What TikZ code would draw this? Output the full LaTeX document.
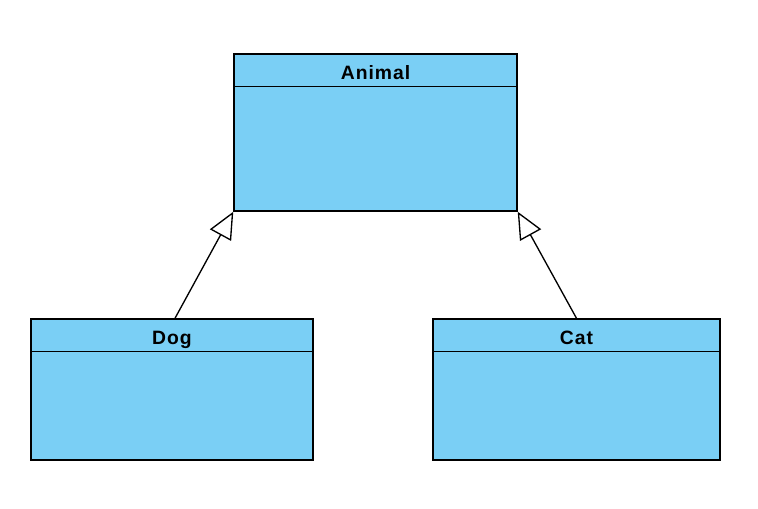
\documentclass[tikz,border=0pt]{standalone}
\usepackage{fontspec}
\setmainfont{Liberation Sans}
\usetikzlibrary{arrows.meta}
\definecolor{classblue}{RGB}{122,207,245}
\begin{document}
\begin{tikzpicture}[x=0.75pt, y=-0.75pt, line join=miter, >={Triangle[open, length=20pt, width=18pt]},
  classbox/.style={draw, fill=classblue, line width=1.1pt, inner sep=0pt},
  classname/.style={anchor=base, inner sep=0pt, yshift=-26.5*0.75pt,
    font=\fontsize{14.5}{16}\selectfont\bfseries\addfontfeature{LetterSpace=5}},
  headline/.style={line width=1.1pt},
  inherit/.style={->, line width=1pt}]
	\useasboundingbox (0,0) rectangle (758,508);
	% superclass
	\node[classbox, minimum width=283*0.75pt, minimum height=157*0.75pt] (animal) at (375.5,132.5) {};
	\node[classname] (animaltitle) at (animal.north) {Animal};
	\draw[headline] (animal.north west) ++(0,33) -- ++(283,0);
	% subclasses
	\node[classbox, minimum width=282*0.75pt, minimum height=141*0.75pt] (dog) at (172,389.5) {};
	\node[classname] (dogtitle) at (dog.north) {Dog};
	\draw[headline] (dog.north west) ++(0,33) -- ++(282,0);
	\node[classbox, minimum width=287*0.75pt, minimum height=141*0.75pt] (cat) at (576.5,389.5) {};
	\node[classname] (cattitle) at (cat.north) {Cat};
	\draw[headline] (cat.north west) ++(0,33) -- ++(287,0);
	% generalisation
	\draw[inherit] (dog.north) ++(3,0) -- (animal.south west);
	\draw[inherit] (cat.north) -- (animal.south east);
\end{tikzpicture}
\end{document}
